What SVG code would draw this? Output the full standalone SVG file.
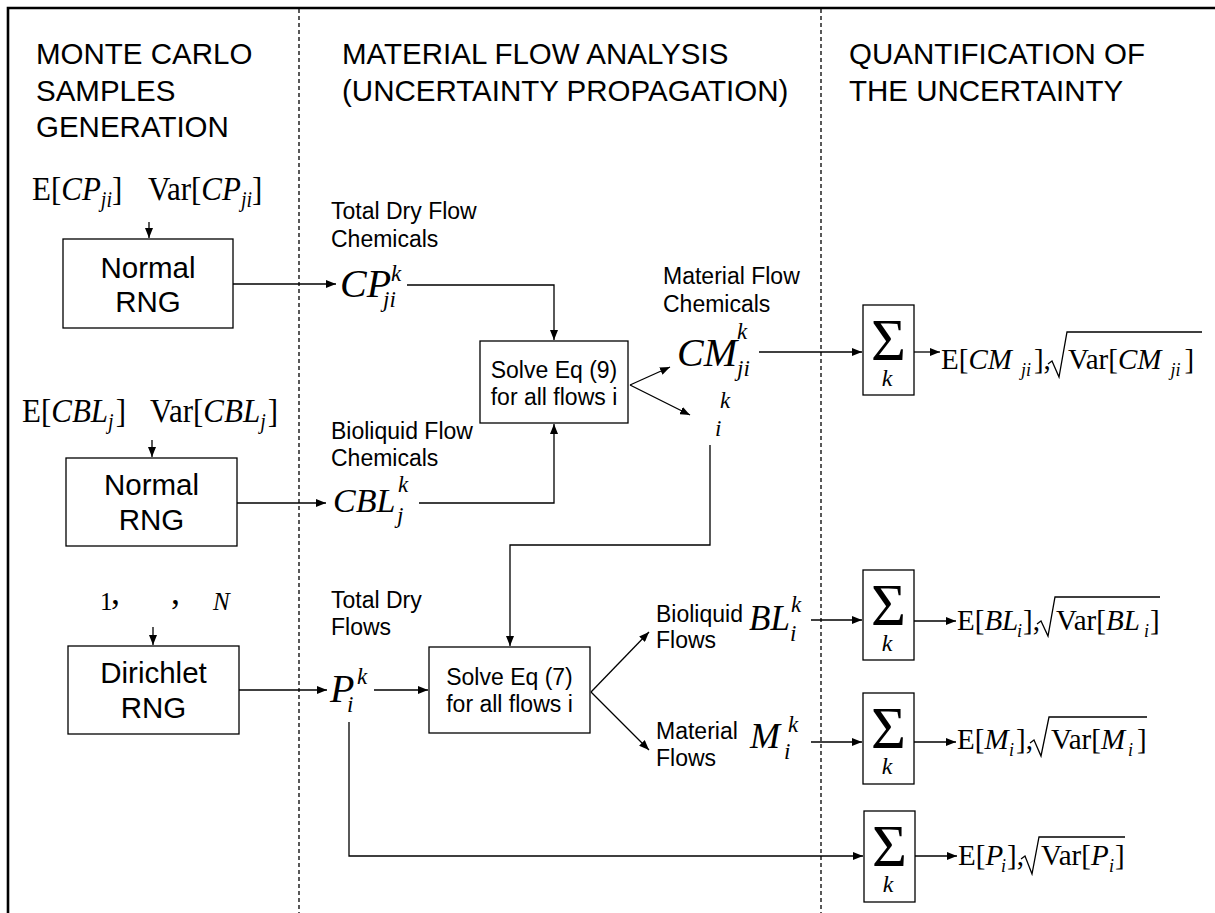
<svg xmlns="http://www.w3.org/2000/svg" width="1215" height="913" viewBox="0 0 1215 913">
<style>
.h{font-family:"Liberation Sans",Arial,sans-serif;font-size:29.5px;fill:#000}
.bt{font-family:"Liberation Sans",Arial,sans-serif;font-size:29.5px;text-anchor:middle;fill:#000}
.st{font-family:"Liberation Sans",Arial,sans-serif;font-size:23px;fill:#000}
.sm{font-family:"Liberation Sans",Arial,sans-serif;font-size:23px;text-anchor:middle;fill:#000}
.m{font-family:"Liberation Serif","Times New Roman",serif;fill:#000}
.it{font-style:italic}
.box{fill:#fff;stroke:#000;stroke-width:1.3}
.ln{fill:none;stroke:#000;stroke-width:1.3}
.dash{fill:none;stroke:#000;stroke-width:1.3;stroke-dasharray:4 3}
.bd{fill:none;stroke:#000;stroke-width:2.6}
</style>
<defs>
<marker id="ah" markerUnits="userSpaceOnUse" markerWidth="11" markerHeight="8" refX="10" refY="4" orient="auto">
<path d="M0,0 L10,4 L0,8 z" fill="#000"/>
</marker>
</defs>
<rect width="1215" height="913" fill="#fff"/>
<g id="frame">
<path class="bd" d="M8,913 V8 H1215"/>
<line class="dash" x1="299" y1="9" x2="299" y2="913"/>
<line class="dash" x1="821" y1="9" x2="821" y2="913"/>
</g>
<g id="headers">
<text class="h" x="36" y="64">MONTE CARLO</text>
<text class="h" x="36" y="100.5">SAMPLES</text>
<text class="h" x="36" y="137">GENERATION</text>
<text class="h" x="342" y="64">MATERIAL FLOW ANALYSIS</text>
<text class="h" x="342" y="101">(UNCERTAINTY PROPAGATION)</text>
<text class="h" x="849" y="64">QUANTIFICATION OF</text>
<text class="h" x="849" y="101">THE UNCERTAINTY</text>
</g>
<g id="in-cp" transform="matrix(1 0 0 1.12 0 -24)">
<text class="m" font-size="31" y="200"><tspan x="32">E[</tspan><tspan class="it">CP</tspan><tspan class="it" font-size="20" dy="6">ji</tspan><tspan dy="-6">]</tspan></text>
<text class="m" font-size="31" y="200"><tspan x="148">Var[</tspan><tspan class="it">CP</tspan><tspan class="it" font-size="20" dy="6">ji</tspan><tspan dy="-6">]</tspan></text>
</g>
<g id="normal-rng-1">
<rect class="box" x="63" y="239" width="170" height="89"/>
<text class="bt" x="148" y="278">Normal</text>
<text class="bt" x="148" y="312">RNG</text>
</g>
<g id="in-cbl" transform="matrix(1 0 0 1.12 0 -50.64)">
<text class="m" font-size="31" y="422"><tspan x="22">E[</tspan><tspan class="it">CBL</tspan><tspan class="it" font-size="20" dy="6">j</tspan><tspan dy="-6" dx="2">]</tspan></text>
<text class="m" font-size="31" y="422"><tspan x="150">Var[</tspan><tspan class="it">CBL</tspan><tspan class="it" font-size="20" dy="6">j</tspan><tspan dy="-6" dx="2">]</tspan></text>
</g>
<g id="normal-rng-2">
<rect class="box" x="66" y="458" width="171" height="88"/>
<text class="bt" x="151.5" y="495">Normal</text>
<text class="bt" x="151.5" y="530">RNG</text>
</g>
<g id="in-alpha">
<text class="m" font-size="25" x="100" y="610">1</text>
<text class="m" font-size="36" x="111" y="604">,</text>
<text class="m" font-size="36" x="171" y="604">,</text>
<text class="m it" font-size="25" x="213" y="610">N</text>
</g>
<g id="dirichlet-rng">
<rect class="box" x="68" y="646" width="171" height="88"/>
<text class="bt" x="153.5" y="683">Dirichlet</text>
<text class="bt" x="153.5" y="718">RNG</text>
</g>
<g id="cp-k">
<text class="st" x="331" y="219">Total Dry Flow</text>
<text class="st" x="331" y="247">Chemicals</text>
<text class="m it" font-size="40" x="340" y="297">CP</text>
<text class="m it" font-size="23" x="391" y="281">k</text>
<text class="m it" font-size="23" x="383" y="307">ji</text>
</g>
<g id="cbl-k">
<text class="st" x="331" y="439">Bioliquid Flow</text>
<text class="st" x="331" y="466">Chemicals</text>
<text class="m it" font-size="34" x="333" y="512">CBL</text>
<text class="m it" font-size="23" x="398" y="492">k</text>
<text class="m it" font-size="23" x="397" y="523">j</text>
</g>
<g id="solve-9">
<rect class="box" x="480" y="341" width="148" height="82"/>
<text class="sm" x="554" y="378">Solve Eq (9)</text>
<text class="sm" x="554" y="405">for all flows i</text>
</g>
<g id="cm-k">
<text class="st" x="663" y="284">Material Flow</text>
<text class="st" x="663" y="312">Chemicals</text>
<text class="m it" font-size="40" x="677" y="366">CM</text>
<text class="m it" font-size="23" x="737" y="339">k</text>
<text class="m it" font-size="23" x="737" y="376">ji</text>
</g>
<g id="x-k">
<text class="m it" font-size="23" x="720" y="408">k</text>
<text class="m it" font-size="23" x="715" y="436">i</text>
</g>
<g id="p-k">
<text class="st" x="331" y="608">Total Dry</text>
<text class="st" x="331" y="635">Flows</text>
<text class="m it" font-size="40" x="330" y="702">P</text>
<text class="m it" font-size="23" x="357" y="684">k</text>
<text class="m it" font-size="23" x="347" y="712">i</text>
</g>
<g id="solve-7">
<rect class="box" x="429" y="647" width="161" height="86"/>
<text class="sm" x="509.5" y="685">Solve Eq (7)</text>
<text class="sm" x="509.5" y="712">for all flows i</text>
</g>
<g id="bl-k">
<text class="st" x="656" y="622">Bioliquid</text>
<text class="st" x="656" y="648">Flows</text>
<text class="m it" font-size="35" x="749" y="630">BL</text>
<text class="m it" font-size="23" x="791" y="612">k</text>
<text class="m it" font-size="23" x="790" y="641">i</text>
</g>
<g id="m-k">
<text class="st" x="656" y="739">Material</text>
<text class="st" x="656" y="766">Flows</text>
<text class="m it" font-size="36" x="750" y="748">M</text>
<text class="m it" font-size="23" x="788" y="732">k</text>
<text class="m it" font-size="23" x="784" y="759">i</text>
</g>
<g id="sum-cm">
<rect class="box" x="863" y="305" width="51" height="90"/>
<text class="m" font-size="60" x="888.5" y="360" text-anchor="middle">Σ</text>
<text class="m it" font-size="24" x="887" y="386" text-anchor="middle">k</text>
</g>
<g id="sum-bl">
<rect class="box" x="863" y="570" width="51" height="90"/>
<text class="m" font-size="60" x="888.5" y="625" text-anchor="middle">Σ</text>
<text class="m it" font-size="24" x="887" y="651" text-anchor="middle">k</text>
</g>
<g id="sum-m">
<rect class="box" x="863" y="693" width="51" height="91"/>
<text class="m" font-size="60" x="888.5" y="748" text-anchor="middle">Σ</text>
<text class="m it" font-size="24" x="887" y="774" text-anchor="middle">k</text>
</g>
<g id="sum-p">
<rect class="box" x="864" y="811" width="51" height="91"/>
<text class="m" font-size="60" x="889.5" y="866" text-anchor="middle">Σ</text>
<text class="m it" font-size="24" x="888" y="892" text-anchor="middle">k</text>
</g>
<g id="out-cm">
<text class="m" font-size="29" y="369"><tspan x="941">E[</tspan><tspan class="it">CM</tspan><tspan class="it" font-size="18" dy="7" dx="9">ji</tspan><tspan dy="-7" dx="3">],</tspan></text>
<path class="ln" d="M1048,364 L1052,361 L1059,377 L1067,332 H1202"/>
<text class="m" font-size="29" y="369"><tspan x="1068">Var[</tspan><tspan class="it">CM</tspan><tspan class="it" font-size="18" dy="7" dx="9">ji</tspan><tspan dy="-7" dx="4">]</tspan></text>
</g>
<g id="out-bl">
<text class="m" font-size="29" y="630"><tspan x="957">E[</tspan><tspan class="it">BL</tspan><tspan class="it" font-size="18" x="1017" y="637">i</tspan><tspan x="1023" y="630">],</tspan></text>
<path class="ln" d="M1037,624 L1041,621 L1048,636 L1055,597 H1160"/>
<text class="m" font-size="29" y="630"><tspan x="1056">Var[</tspan><tspan class="it">BL</tspan><tspan class="it" font-size="18" x="1144" y="637">i</tspan><tspan x="1150" y="630">]</tspan></text>
</g>
<g id="out-m">
<text class="m" font-size="29" y="749"><tspan x="957">E[</tspan><tspan class="it">M</tspan><tspan class="it" font-size="18" x="1009" y="756">i</tspan><tspan x="1016" y="749">],</tspan></text>
<path class="ln" d="M1030,743 L1034,740 L1041,756 L1049,717 H1147"/>
<text class="m" font-size="29" y="749"><tspan x="1051">Var[</tspan><tspan class="it">M</tspan><tspan class="it" font-size="18" x="1128" y="756">i</tspan><tspan x="1137" y="749">]</tspan></text>
</g>
<g id="out-p">
<text class="m" font-size="29" y="865"><tspan x="958">E[</tspan><tspan class="it">P</tspan><tspan class="it" font-size="18" x="1001" y="872">i</tspan><tspan x="1007" y="865">],</tspan></text>
<path class="ln" d="M1021,859 L1025,856 L1032,874 L1039,837 H1125"/>
<text class="m" font-size="29" y="865"><tspan x="1041">Var[</tspan><tspan class="it">P</tspan><tspan class="it" font-size="18" x="1109" y="872">i</tspan><tspan x="1115" y="865">]</tspan></text>
</g>
<g id="connectors" class="ln">
<path class="ln" marker-end="url(#ah)" d="M149,222 V238"/>
<path class="ln" marker-end="url(#ah)" d="M233,284 H336"/>
<path class="ln" marker-end="url(#ah)" d="M407,285 H554 V340"/>
<path class="ln" marker-end="url(#ah)" d="M152,440 V457"/>
<path class="ln" marker-end="url(#ah)" d="M237,503 H326"/>
<path class="ln" marker-end="url(#ah)" d="M419,503 H554 V424"/>
<path class="ln" marker-end="url(#ah)" d="M630,385 L670,367"/>
<path class="ln" marker-end="url(#ah)" d="M630,385 L690,415"/>
<path class="ln" marker-end="url(#ah)" d="M759,352 H862"/>
<path class="ln" marker-end="url(#ah)" d="M914,352 H940"/>
<path class="ln" marker-end="url(#ah)" d="M710,445 V545 H510 V646"/>
<path class="ln" marker-end="url(#ah)" d="M153,627 V645"/>
<path class="ln" marker-end="url(#ah)" d="M239,690 H327"/>
<path class="ln" marker-end="url(#ah)" d="M374,690 H428"/>
<path class="ln" marker-end="url(#ah)" d="M591,692 L649,632"/>
<path class="ln" marker-end="url(#ah)" d="M591,692 L649,750"/>
<path class="ln" marker-end="url(#ah)" d="M811,620 H862"/>
<path class="ln" marker-end="url(#ah)" d="M811,742 H862"/>
<path class="ln" marker-end="url(#ah)" d="M349,722 V856 H863"/>
<path class="ln" marker-end="url(#ah)" d="M914,621 H956"/>
<path class="ln" marker-end="url(#ah)" d="M914,742 H956"/>
<path class="ln" marker-end="url(#ah)" d="M915,856 H957"/>
</g>
</svg>
